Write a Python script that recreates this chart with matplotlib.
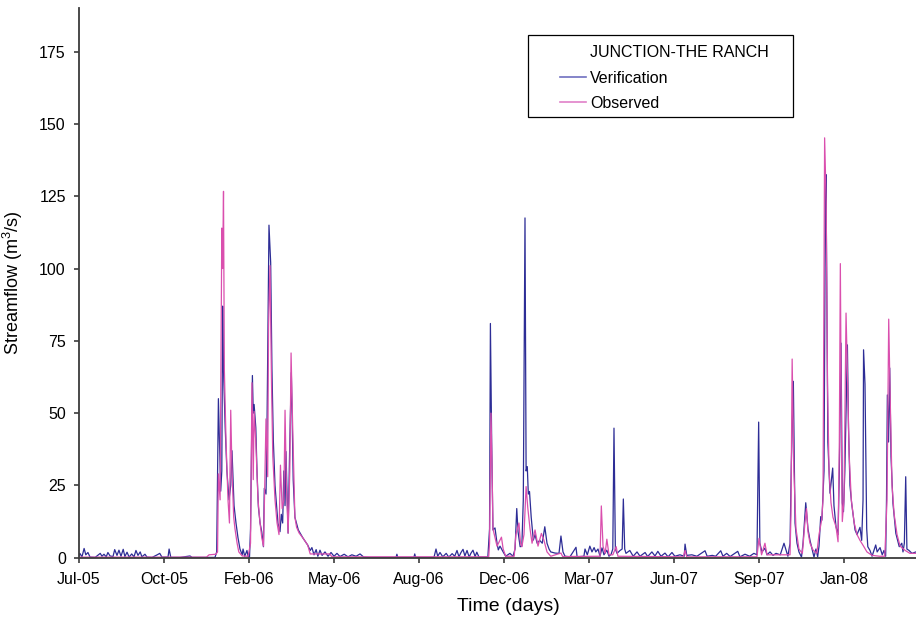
import numpy as np
import pandas as pd
import matplotlib
matplotlib.use("Agg")
import matplotlib.pyplot as plt
import matplotlib.dates as mdates
from matplotlib.lines import Line2D
from matplotlib.patches import Rectangle

plt.rcParams['font.family'] = ['Liberation Sans', 'DejaVu Sans']
plt.rcParams['mathtext.fontset'] = 'custom'
plt.rcParams['mathtext.rm'] = 'Liberation Sans'

# --- data (days after the first record, streamflow m3/s) ---
start_date = pd.Timestamp('2005-07-20')

verif_days = [0, 1, 3.5, 6, 8, 10.5, 13, 19, 25, 27, 29.4, 32, 34, 36.5, 40, 42, 44.7, 47, 49.4, 52,
              54, 56.5, 59, 62, 64.7, 67, 69.4, 72, 74, 77.6, 80, 86, 92, 95, 97.6, 104.7, 106, 108,
              119, 130.6, 133, 160, 162, 164, 166.7, 168, 169, 170, 172, 174, 176.5, 178.5, 180,
              182.4, 184.7, 187, 189.4, 192, 193, 195, 197.6, 199, 200.6, 201.8, 204, 205, 206, 208,
              209.4, 211, 213, 215, 217, 218, 220, 221, 223.5, 225.5, 227, 228.6, 230.6, 232.6, 234,
              236.5, 238, 239.6, 241, 242.4, 243.5, 245, 246, 248, 249.8, 251, 252, 254, 258, 263.5,
              269, 272, 274, 276.5, 279, 281, 283.5, 286, 289.4, 293, 296.5, 300, 303.5, 307, 312,
              316.5, 321, 326, 330.6, 335, 342, 354, 373, 374, 375, 394, 395, 396, 417.6, 420, 422,
              424.7, 428, 432, 435, 439, 442, 444.7, 447, 449.4, 451.8, 454, 456.5, 459, 461, 463.5,
              466, 468, 470.6, 481, 483, 484, 485.5, 487, 489.4, 491.8, 493.3, 495.3, 499, 502, 507,
              510.6, 513, 515, 516.5, 519, 521, 522.7, 524.7, 526, 527.4, 528.6, 530, 532, 534.5,
              536.5, 539, 542, 545, 548, 550.6, 553, 555, 560, 564.7, 567, 569.4, 571.8, 577.6,
              584.7, 586, 594, 595.3, 598, 601, 603.5, 606, 608, 610.6, 613, 615.3, 617.6, 621,
              623.5, 626, 628, 629.4, 631, 633, 636.5, 639, 640.4, 642, 643.5, 648, 652, 656.5, 660,
              666, 669, 674, 677.6, 681, 684.7, 689.4, 693, 697.6, 701, 707, 712, 713, 715, 721, 727,
              736.5, 739, 745, 749, 755, 757.6, 762, 766, 775, 777.6, 783.5, 789, 794, 797.6, 799.6,
              801, 803.5, 807, 809.4, 813, 816.5, 820, 825, 829.4, 832, 834, 836.5, 838, 840.4,
              842.4, 844.7, 847, 850, 851.8, 855, 857.6, 860, 862.4, 864.7, 867, 869, 870.6, 872.6,
              874, 876.5, 878, 878.8, 880, 881, 883.5, 886.7, 888.2, 890.6, 893, 894.5, 896.5, 898,
              899.4, 901, 904, 905.3, 907, 909, 910.6, 913, 915.3, 918.8, 920.8, 922.4, 923, 924.7,
              926.7, 928, 930.6, 933, 937.3, 939, 942.4, 945, 947, 949, 950, 951, 952.4, 953.8,
              955.3, 957.6, 961, 965, 968, 969.4, 971, 972.6, 974, 976.5, 980, 984.7, 990]
verif_flow = [0.5, 1.5, 0.3, 3.2, 1.0, 1.8, 0.2, 0.1, 1.5, 0.5, 1.2, 0.3, 1.8, 0.6, 0.4, 2.8, 0.8, 2.6, 0.5, 2.9,
              0.4, 1.9, 0.2, 1.3, 0.3, 2.5, 0.8, 2.0, 0.3, 1.2, 0.2, 0.1, 1.0, 1.5, 0.2, 0.2, 3.0, 0.1,
              0.1, 0.6, 0.1, 0.1, 2, 55, 23, 30, 87, 65, 45, 30, 20, 25, 37,
              18, 12, 7, 3, 1, 3, 0.5, 2.5, 0.3, 0.2, 10, 63, 50, 53, 45,
              30, 17.7, 12, 9, 3.8, 24, 22, 40, 115, 102, 65, 40.7, 25, 17.6, 12,
              9, 15, 12, 30, 18, 36.7, 20, 8.5, 40, 64, 45, 27, 14, 9.6, 6.8,
              4.4, 2.5, 3.5, 1.0, 2.8, 0.5, 2.6, 0.8, 2.0, 0.5, 1.8, 0.5, 1.5, 0.4, 1.2,
              0.3, 1.0, 0.5, 1.3, 0.2, 0.1, 0.1, 0.1, 1.2, 0.1, 0.1, 1.3, 0.1, 0.1, 3, 0.5,
              1.8, 0.3, 1.5, 0.2, 1.4, 0.5, 2.5, 0.3, 1.8, 2.9, 0.6, 2.5, 0.2, 1.5, 2.6,
              0.4, 1.9, 0.2, 0.2, 10, 81, 40, 9.6, 10.3, 5, 2.7, 4, 2, 0.5, 1.5,
              0.5, 3, 17, 9, 3.8, 4, 20, 117.5, 30, 31.5, 22, 22.9, 14, 6.1,
              8, 5, 6, 5, 10.7, 5, 3, 2, 1.6, 1.5, 7.5, 2.0, 0.5, 0.3,
              3.6, 0.3, 0.5, 3, 1.0, 4, 2.0, 3.5, 2.0, 3, 0.5, 3.4, 1.0, 2.6,
              0.5, 1.2, 3, 44.8, 3, 1.5, 2.5, 3, 20.3, 3, 1.5, 2.5, 0.5, 2.0, 0.5,
              1.8, 0.4, 2.0, 0.6, 2.2, 0.5, 1.6, 0.3, 1.8, 0.5, 1.0, 0.5, 4.7, 0.8, 1.0, 0.5,
              2.4, 0.5, 0.8, 0.5, 2.4, 0.5, 1.5, 0.4, 2.2, 0.3, 1.2, 0.5, 1.5, 1.0, 46.9,
              5, 2.0, 3.3, 1.0, 2.0, 0.8, 1.5, 1.0, 5, 2.5, 0.5, 5, 32, 61,
              12, 5, 2, 0.2, 5, 19, 10, 6, 3, 0.2, 3, 0.3, 4, 14.2,
              13, 30, 118, 132.5, 80, 40, 22.3, 31, 18, 10.7, 8, 30, 74.2, 19,
              15.9, 30, 73.6, 45, 25, 18.8, 15, 9.6, 8, 10.5, 6, 20, 71.9, 60,
              10, 3.8, 2.5, 0.5, 4.4, 2.0, 3.5, 1.0, 2.5, 0.5, 20, 56.3, 40, 65.6,
              35, 18.8, 8.4, 3.8, 5, 2.0, 5, 28, 3, 2.5, 1.5, 2.0, 2.0]

obs_days = [0, 100, 150, 153, 161, 163, 164, 166, 168, 169, 170, 171, 173, 175.3, 177, 178.5, 180, 182,
            183.5, 186, 188, 192, 199, 201.8, 203.5, 205, 206, 208, 210.6, 213, 215, 217, 218.2, 220,
            222, 223, 224.7, 226.5, 228, 230.6, 233, 235.3, 237, 239, 241, 242.4, 244, 246, 248,
            249.5, 251, 253, 254, 256, 259, 263.5, 269, 272, 295, 297.6, 472, 482, 483, 484.7, 486, 487,
            491.8, 497, 499, 502, 512, 514, 517.6, 519.4, 521, 523.5, 526, 528, 530.6, 533, 536.5,
            540, 544, 547, 550.6, 555, 567, 569, 613, 614.5, 616.5, 619, 621, 623.5, 628, 632, 634,
            711, 713, 715, 797.6, 800, 803, 807, 809.4, 836.5, 837.6, 839, 841, 843.5, 847, 851, 854,
            855.9, 857.6, 860, 863.5, 868, 870.6, 873.7, 875.3, 877.2, 879, 880.6, 882.4, 884.7,
            887, 890.6, 893, 894.5, 895.7, 897, 898, 900, 902.4, 904.3, 906, 908.6, 912, 915.3,
            918.8, 923, 927, 933, 942, 948, 950.6, 952.6, 954, 956.5, 959, 962.4, 966, 972, 977.6,
            984.7, 990]
obs_flow = [0.2, 0.2, 0.2, 1.0, 1.2, 2, 29, 20, 114, 100, 126.7, 65, 40, 20, 12, 51, 30, 14,
            10, 5, 2, 0.6, 0.5, 5, 60.5, 27, 50.6, 40, 20, 12, 7, 4, 20, 48,
            28, 80, 101, 60, 35, 20, 12, 8, 32, 17, 20, 51, 25, 8.5, 30,
            70.8, 50, 27, 14, 10.5, 8.5, 6.8, 4.4, 1.3, 1.3, 0.3, 0.3, 0.3, 5, 50, 30, 10,
            4, 7.1, 3, 0.5, 0.5, 8, 12, 5, 3.8, 8, 24.6, 17.2, 10, 5, 9.6,
            4, 8.4, 6, 2, 0.5, 1.6, 0.4, 0.5, 17.9, 4, 1.5, 6.4, 1.0, 1, 3.8, 0.5,
            0.3, 2.5, 0.3, 0.3, 6.7, 1.0, 5, 1, 1, 15, 68.7, 30, 10, 3, 1.5, 12,
            17, 9, 5, 2.7, 1.5, 8, 13, 20, 145.2, 123, 60, 30, 19,
            14, 10.7, 5.5, 40, 101.7, 40, 12.5, 20, 84.6, 60, 36, 20, 12, 8,
            6, 4, 2, 0.8, 0.5, 0.5, 20, 82.5, 60, 25, 15, 8, 4, 2.5, 1.5,
            1.5, 1.5]

y_ticks = [0, 25, 50, 75, 100, 125, 150, 175]

verif_dates = start_date + pd.to_timedelta(verif_days, unit='D')
obs_dates = start_date + pd.to_timedelta(obs_days, unit='D')

# --- plot ---
fig = plt.figure(figsize=(9.16, 6.23), dpi=100)
# plot area runs a little past the right edge of the picture
ax = fig.add_axes([79 / 916, 65.3 / 623, 858 / 916, 549.4 / 623])

blue = '#2D2D96'
pink = '#DA4FAE'
ax.plot(verif_dates, verif_flow, color=blue, lw=0.9)
ax.plot(obs_dates, obs_flow, color=pink, lw=0.9)

ax.set_xlim(start_date, start_date + pd.Timedelta(days=858 / 0.85))
ax.set_ylim(0, 190)
ax.set_yticks(y_ticks)
ax.set_xticks(pd.date_range(start_date, periods=10, freq='100D'))
ax.xaxis.set_major_formatter(mdates.DateFormatter('%b-%y'))

for side in ['top', 'right']:
    ax.spines[side].set_visible(False)
for side in ['left', 'bottom']:
    ax.spines[side].set_color('#3c3c3c')
    ax.spines[side].set_linewidth(1.3)
ax.tick_params(axis='both', direction='out', length=3.5, width=1.2, color='#3c3c3c',
               labelsize=11.5, pad=6)
ax.tick_params(axis='x', pad=7)

ax.set_xlabel('Time (days)', fontsize=14, labelpad=8)
ax.set_ylabel('Streamflow (m$\\mathregular{^3}$/s)', fontsize=13, labelpad=10)

# legend box drawn as a plain frame, entries placed inside it
fig.patches.append(Rectangle((528 / 916, 1 - 117.3 / 623), 265 / 916, 82.3 / 623,
                             transform=fig.transFigure, fill=False, edgecolor='black', lw=0.9))
handles = [Line2D([], [], color='none'),
           Line2D([], [], color='#7070C0', lw=1.2),
           Line2D([], [], color='#E080C8', lw=1.2)]
labels = ['JUNCTION-THE RANCH', 'Verification', 'Observed']
fig.legend(handles, labels, loc='upper left', bbox_to_anchor=(552 / 916, 1 - 37 / 623),
           bbox_transform=fig.transFigure, frameon=False, fontsize=11.5, borderpad=0,
           handlelength=1.65, handletextpad=0.25, labelspacing=0.66)

fig.savefig('out.png', dpi=100)
